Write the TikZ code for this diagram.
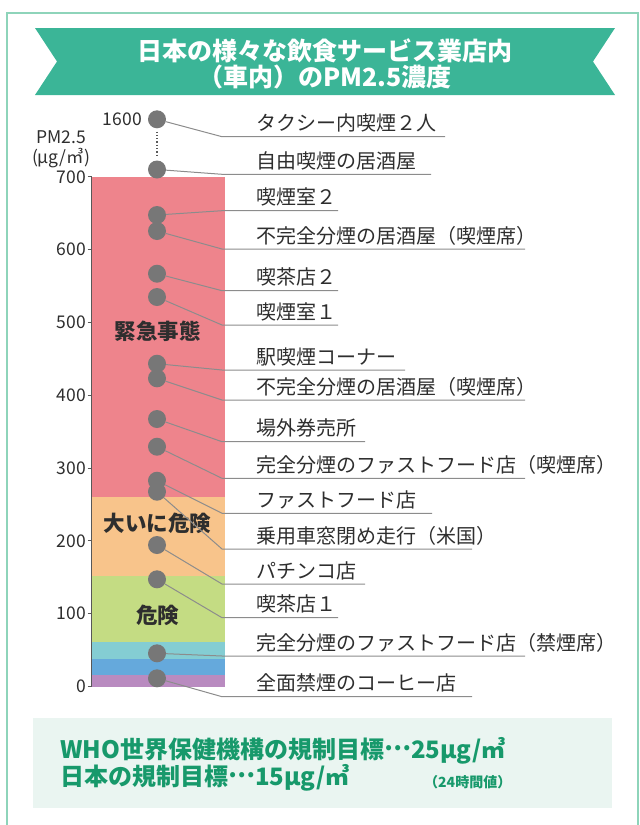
\documentclass[tikz,border=0pt]{standalone}
\usepackage{fontspec}
\setmainfont{Noto Sans CJK JP}
\usepackage{xcolor}
\usetikzlibrary{positioning}
\definecolor{ribbon}{HTML}{3BB597}
\definecolor{frame}{HTML}{8ED4BA}
\definecolor{alarm}{HTML}{EE848C}
\definecolor{danger}{HTML}{F8C48B}
\definecolor{risk}{HTML}{C4DC83}
\definecolor{aqua}{HTML}{84CDD3}
\definecolor{sky}{HTML}{65A9DC}
\definecolor{lilac}{HTML}{B98BC0}
\definecolor{dotgray}{HTML}{777777}
\definecolor{linegray}{HTML}{8C8C8C}
\definecolor{ink}{HTML}{2E2E2E}
\definecolor{goalgreen}{HTML}{17996B}
\definecolor{goalbg}{HTML}{EAF5F1}
\newcommand{\middots}{\raisebox{0.3em}{…}}
\tikzset{
	spot/.style={circle, fill=dotgray, inner sep=0pt, minimum size=18pt},
	shop/.style={anchor=base west, inner sep=0pt, font=\fontsize{20}{24}\selectfont, text=ink},
	leader/.style={draw=linegray, line width=1pt},
	axislabel/.style={inner sep=0pt, font=\fontsize{17.5}{20}\selectfont, text=ink},
	zone/.style={inner sep=0pt, font=\bfseries\fontsize{21.5}{24}\selectfont, text=ink},
	goal/.style={anchor=base west, inner sep=0pt, font=\bfseries\fontsize{24}{28}\selectfont, text=goalgreen}
}

\begin{document}
\begin{tikzpicture}[x=1pt, y=-1pt]
			\useasboundingbox (0,0) rectangle (640,825);
			\draw[frame, line width=2pt] (7,13) rectangle (638,840);
			
			% title ribbon
			\fill[ribbon] (35,28) -- (615,28) -- (593,61.5) -- (615,95) -- (35,95) -- (57,61.5) -- cycle;
			\node[align=center, inner sep=0pt, text=white, font=\bfseries\fontsize{25}{26.6}\selectfont] (head) at (325,64) {日本の様々な飲食サービス業店内\\（車内）のPM2.5濃度};
			
			% bands
			\fill[lilac] (92,686.5) rectangle (225,675);
			\fill[sky] (92,675) rectangle (225,659);
			\fill[aqua] (92,659) rectangle (225,641.7);
			\fill[risk] (92,641.7) rectangle (225,575.7);
			\fill[danger] (92,575.7) rectangle (225,496.7);
			\fill[alarm] (92,496.7) rectangle (225,176.7);
			\node[zone] (zone-alarm) at (157.5,331.7) {緊急事態};
			\node[zone] (zone-danger) at (157.5,523) {大いに危険};
			\node[zone] (zone-risk) at (157.5,615) {危険};
			
			% axis
			\draw[ink!80, line width=1.3pt] (91.5,176.9) -- (91.5,687);
			\draw[ink!80, line width=1pt] (87.5,686.5) -- (91.5,686.5); \node[axislabel, anchor=east] (y0) at (86,686.5) {0};
			\draw[ink!80, line width=1pt] (87.5,613.7) -- (91.5,613.7); \node[axislabel, anchor=east] (y1) at (86,613.7) {100};
			\draw[ink!80, line width=1pt] (87.5,540.9) -- (91.5,540.9); \node[axislabel, anchor=east] (y2) at (86,540.9) {200};
			\draw[ink!80, line width=1pt] (87.5,468.1) -- (91.5,468.1); \node[axislabel, anchor=east] (y3) at (86,468.1) {300};
			\draw[ink!80, line width=1pt] (87.5,395.3) -- (91.5,395.3); \node[axislabel, anchor=east] (y4) at (86,395.3) {400};
			\draw[ink!80, line width=1pt] (87.5,322.5) -- (91.5,322.5); \node[axislabel, anchor=east] (y5) at (86,322.5) {500};
			\draw[ink!80, line width=1pt] (87.5,249.7) -- (91.5,249.7); \node[axislabel, anchor=east] (y6) at (86,249.7) {600};
			\draw[ink!80, line width=1pt] (87.5,176.9) -- (91.5,176.9); \node[axislabel, anchor=east] (y7) at (86,176.9) {700};
			\node[axislabel] (unit-a) at (61,137) {PM2.5};
			\node[axislabel, below=4pt of unit-a] (unit-b) {(μg/㎥)};
			\node[axislabel, anchor=east] (y16) at (142,119.3) {1600};
			
			% dots
			\node[spot] (taxi) at (157,119.3) {};
			\node[spot] (izakaya-free) at (157,169.5) {};
			\node[spot] (room-2) at (157,215) {};
			\node[spot] (izakaya-a) at (157,231) {};
			\node[spot] (cafe-2) at (157,273.7) {};
			\node[spot] (room-1) at (157,297) {};
			\node[spot] (station) at (157,363.7) {};
			\node[spot] (izakaya-b) at (157,378.3) {};
			\node[spot] (ticket) at (157,419) {};
			\node[spot] (ff-smoke) at (157,446.7) {};
			\node[spot] (ff) at (157,480.7) {};
			\node[spot] (car) at (157,491.7) {};
			\node[spot] (pachinko) at (157,545) {};
			\node[spot] (cafe-1) at (157,579.3) {};
			\node[spot] (ff-free) at (157,653.3) {};
			\node[spot] (coffee) at (157,678.3) {};
			\draw[ink!80, line width=1.3pt, dotted, shorten >=3pt, shorten <=3pt] (taxi) -- (izakaya-free);
			
			% labels
			\node[shop] (taxi-t) at (256,130.7) {タクシー内喫煙２人};
			\node[shop] (izakaya-free-t) at (256,168.3) {自由喫煙の居酒屋};
			\node[shop] (room-2-t) at (256,204.7) {喫煙室２};
			\node[shop] (izakaya-a-t) at (256,243) {不完全分煙の居酒屋（喫煙席）};
			\node[shop] (cafe-2-t) at (256,284.7) {喫茶店２};
			\node[shop] (room-1-t) at (256,319) {喫煙室１};
			\node[shop] (station-t) at (256,364) {駅喫煙コーナー};
			\node[shop] (izakaya-b-t) at (256,394) {不完全分煙の居酒屋（喫煙席）};
			\node[shop] (ticket-t) at (256,435.7) {場外券売所};
			\node[shop] (ff-smoke-t) at (256,472.3) {完全分煙のファストフード店（喫煙席）};
			\node[shop] (ff-t) at (256,507.3) {ファストフード店};
			\node[shop] (car-t) at (256,543) {乗用車窓閉め走行（米国）};
			\node[shop] (pachinko-t) at (256,578) {パチンコ店};
			\node[shop] (cafe-1-t) at (256,611.7) {喫茶店１};
			\node[shop] (ff-free-t) at (256,650) {完全分煙のファストフード店（禁煙席）};
			\node[shop] (coffee-t) at (256,690.7) {全面禁煙のコーヒー店};
			
			% leaders
			\coordinate (taxi-k) at (222,136.7); \coordinate (taxi-e) at (445,136.7);
			\coordinate (izakaya-free-k) at (222,174.3); \coordinate (izakaya-free-e) at (431,174.3);
			\coordinate (room-2-k) at (222,210.7); \coordinate (room-2-e) at (338,210.7);
			\coordinate (izakaya-a-k) at (222,249); \coordinate (izakaya-a-e) at (525,249);
			\coordinate (cafe-2-k) at (222,290.7); \coordinate (cafe-2-e) at (338,290.7);
			\coordinate (room-1-k) at (222,325); \coordinate (room-1-e) at (338,325);
			\coordinate (station-k) at (222,370); \coordinate (station-e) at (405,370);
			\coordinate (izakaya-b-k) at (222,400); \coordinate (izakaya-b-e) at (525,400);
			\coordinate (ticket-k) at (222,441.7); \coordinate (ticket-e) at (365,441.7);
			\coordinate (ff-smoke-k) at (222,478.3); \coordinate (ff-smoke-e) at (525,478.3);
			\coordinate (ff-k) at (222,513.3); \coordinate (ff-e) at (432,513.3);
			\coordinate (car-k) at (222,549); \coordinate (car-e) at (472,549);
			\coordinate (pachinko-k) at (222,584); \coordinate (pachinko-e) at (365,584);
			\coordinate (cafe-1-k) at (222,617.7); \coordinate (cafe-1-e) at (338,617.7);
			\coordinate (ff-free-k) at (222,656); \coordinate (ff-free-e) at (525,656);
			\coordinate (coffee-k) at (222,696.7); \coordinate (coffee-e) at (472,696.7);
			\draw[leader] (taxi) -- (taxi-k) -- (taxi-e);
			\draw[leader] (izakaya-free) -- (izakaya-free-k) -- (izakaya-free-e);
			\draw[leader] (room-2) -- (room-2-k) -- (room-2-e);
			\draw[leader] (izakaya-a) -- (izakaya-a-k) -- (izakaya-a-e);
			\draw[leader] (cafe-2) -- (cafe-2-k) -- (cafe-2-e);
			\draw[leader] (room-1) -- (room-1-k) -- (room-1-e);
			\draw[leader] (station) -- (station-k) -- (station-e);
			\draw[leader] (izakaya-b) -- (izakaya-b-k) -- (izakaya-b-e);
			\draw[leader] (ticket) -- (ticket-k) -- (ticket-e);
			\draw[leader] (ff-smoke) -- (ff-smoke-k) -- (ff-smoke-e);
			\draw[leader] (ff) -- (ff-k) -- (ff-e);
			\draw[leader] (car) -- (car-k) -- (car-e);
			\draw[leader] (pachinko) -- (pachinko-k) -- (pachinko-e);
			\draw[leader] (cafe-1) -- (cafe-1-k) -- (cafe-1-e);
			\draw[leader] (ff-free) -- (ff-free-k) -- (ff-free-e);
			\draw[leader] (coffee) -- (coffee-k) -- (coffee-e);
			
			% standards
			\fill[goalbg] (33,718) rectangle (612,808);
			\node[goal] (who) at (60,758) {WHO世界保健機構の規制目標\middots25μg/㎥};
			\node[goal] (japan) at (60,785) {日本の規制目標\middots15μg/㎥};
			\node[goal, font=\bfseries\fontsize{14}{16}\selectfont] (japan-note) at (424,787) {（24時間値）};
			
		\end{tikzpicture}
\end{document}
